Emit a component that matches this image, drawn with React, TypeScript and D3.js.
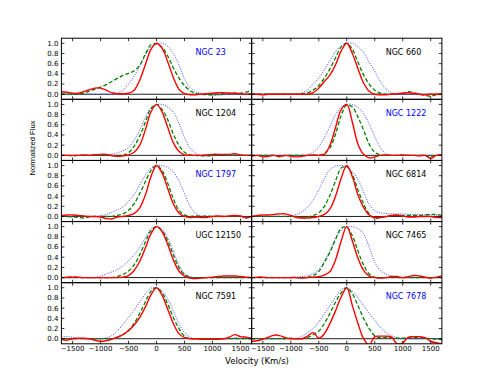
import React from "react";
import * as d3 from "d3";

const vel = [-1700, -1600, -1500, -1400, -1300, -1200, -1100, -1000, -900, -800, -700, -600, -500, -400, -300, -200, -100, 0, 100, 200, 300, 400, 500, 600, 700, 800, 900, 1000, 1100, 1200, 1300, 1400, 1500, 1600, 1700];

const xTicks = [-1500, -1000, -500, 0, 500, 1000, 1500];
const xTickLabels = ["\u22121500", "\u22121000", "\u2212500", "0", "500", "1000", "1500"];
const yTicks = [0, 0.2, 0.4, 0.6, 0.8, 1.0];
const yTickLabels = ["0.0", "0.2", "0.4", "0.6", "0.8", "1.0"];

// NGC 23
const ngc23Red = [0.05, 0.04, 0.02, 0.02, 0.05, 0.09, 0.12, 0.12, 0.08, 0.03, 0.01, 0.01, 0.02, 0.08, 0.28, 0.58, 0.88, 1.0, 0.9, 0.64, 0.33, 0.1, 0.01, -0.01, -0.01, 0.0, 0.01, 0.02, 0.03, 0.03, 0.02, 0.02, 0.01, 0.0, 0.0];
const ngc23Green = [0.0, 0.0, 0.0, 0.0, 0.02, 0.06, 0.1, 0.14, 0.19, 0.25, 0.31, 0.37, 0.41, 0.46, 0.57, 0.79, 0.97, 0.99, 0.92, 0.75, 0.52, 0.32, 0.17, 0.07, 0.02, 0.0, -0.01, -0.01, 0.0, 0.01, 0.02, 0.02, 0.02, 0.04, 0.07];
const ngc23Blue = [0.0, 0.0, 0.0, 0.0, 0.0, 0.0, 0.0, 0.0, 0.0, 0.0, 0.02, 0.08, 0.2, 0.36, 0.55, 0.77, 0.93, 0.99, 1.0, 0.94, 0.8, 0.58, 0.3, 0.13, 0.05, 0.02, 0.0, -0.02, -0.02, -0.01, 0.0, 0.0, 0.0, 0.0, 0.0];

// NGC 1204
const ngc1204Red = [0.0, 0.0, 0.0, 0.0, 0.01, 0.0, 0.01, 0.02, 0.02, 0.0, -0.02, -0.01, 0.01, 0.06, 0.2, 0.5, 0.85, 1.0, 0.85, 0.55, 0.25, 0.08, 0.01, 0.0, 0.0, 0.0, 0.01, 0.02, 0.02, 0.02, 0.02, 0.03, 0.01, 0.0, 0.0];
const ngc1204Green = [0.0, 0.0, -0.01, 0.0, 0.0, 0.0, 0.01, 0.0, 0.0, -0.01, 0.0, 0.0, 0.05, 0.18, 0.38, 0.65, 0.92, 1.0, 0.9, 0.7, 0.42, 0.2, 0.06, 0.01, 0.0, -0.01, -0.01, 0.0, 0.01, 0.01, 0.0, 0.0, 0.0, 0.0, 0.0];
const ngc1204Blue = [0.0, 0.0, 0.0, 0.0, 0.0, 0.0, 0.0, 0.0, 0.0, 0.02, 0.05, 0.09, 0.15, 0.3, 0.5, 0.75, 0.93, 0.99, 1.0, 0.95, 0.85, 0.63, 0.35, 0.14, 0.04, 0.0, -0.01, -0.01, 0.0, 0.0, 0.0, 0.0, 0.0, 0.0, 0.0];

// NGC 1797
const ngc1797Red = [0.02, 0.03, 0.03, 0.02, 0.01, 0.0, 0.0, -0.01, -0.04, -0.05, -0.01, 0.0, 0.02, 0.06, 0.17, 0.42, 0.78, 1.0, 0.85, 0.55, 0.25, 0.07, 0.0, -0.02, -0.01, -0.02, -0.02, 0.0, 0.01, 0.0, 0.01, 0.02, 0.01, -0.03, 0.0];
const ngc1797Green = [0.0, 0.0, -0.01, -0.02, -0.03, -0.01, 0.0, 0.0, 0.0, 0.0, 0.02, 0.05, 0.12, 0.25, 0.45, 0.68, 0.9, 1.0, 0.9, 0.65, 0.35, 0.12, 0.03, 0.0, 0.01, 0.0, 0.01, 0.0, 0.0, 0.0, 0.0, 0.0, 0.0, -0.02, 0.0];
const ngc1797Blue = [0.0, 0.0, 0.0, 0.0, 0.0, 0.0, 0.0, 0.01, 0.04, 0.08, 0.13, 0.19, 0.3, 0.43, 0.62, 0.81, 0.95, 1.0, 1.0, 0.96, 0.88, 0.7, 0.45, 0.2, 0.06, 0.01, 0.0, 0.0, 0.0, 0.0, 0.0, 0.0, 0.0, 0.0, 0.0];

// UGC 12150
const ugc12150Red = [0.0, 0.01, 0.01, 0.01, 0.0, 0.0, 0.0, 0.0, 0.0, 0.0, 0.0, 0.01, 0.04, 0.14, 0.32, 0.58, 0.86, 1.0, 0.9, 0.65, 0.35, 0.13, 0.03, -0.01, -0.02, -0.01, 0.0, 0.01, 0.02, 0.03, 0.03, 0.03, 0.02, 0.01, 0.0];
const ugc12150Green = [0.0, 0.0, 0.0, 0.0, 0.0, 0.0, 0.0, 0.0, 0.0, 0.0, 0.02, 0.06, 0.13, 0.25, 0.45, 0.7, 0.92, 1.0, 0.92, 0.72, 0.45, 0.2, 0.06, 0.01, 0.0, 0.0, 0.0, 0.0, 0.0, 0.0, 0.0, 0.0, 0.0, 0.0, 0.0];
const ugc12150Blue = [0.0, 0.0, 0.0, 0.0, 0.0, 0.0, 0.0, 0.03, 0.07, 0.11, 0.16, 0.23, 0.33, 0.45, 0.6, 0.78, 0.95, 1.0, 0.95, 0.78, 0.52, 0.25, 0.08, 0.02, 0.0, 0.0, 0.0, 0.0, 0.0, 0.0, 0.0, 0.0, 0.0, 0.0, 0.0];

// NGC 7591
const ngc7591Red = [-0.01, -0.03, 0.0, 0.01, 0.01, 0.0, -0.03, -0.05, -0.04, -0.01, 0.03, 0.08, 0.16, 0.27, 0.42, 0.62, 0.86, 1.0, 0.85, 0.58, 0.3, 0.1, 0.02, 0.0, 0.0, -0.01, -0.01, -0.01, -0.01, 0.0, 0.03, 0.08, 0.04, 0.03, 0.01];
const ngc7591Green = [0.0, 0.0, 0.0, 0.0, 0.0, 0.0, 0.0, 0.0, 0.0, 0.0, 0.03, 0.08, 0.16, 0.3, 0.5, 0.72, 0.93, 1.0, 0.9, 0.68, 0.42, 0.2, 0.05, 0.0, 0.0, 0.0, 0.0, 0.0, 0.0, 0.0, 0.0, 0.0, 0.0, 0.0, 0.0];
const ngc7591Blue = [0.03, 0.04, 0.03, 0.01, 0.0, 0.0, 0.0, 0.0, 0.02, 0.06, 0.15, 0.28, 0.42, 0.56, 0.72, 0.88, 0.99, 1.0, 0.93, 0.78, 0.55, 0.3, 0.12, 0.03, 0.0, 0.0, 0.0, 0.0, 0.0, 0.0, 0.0, 0.02, 0.04, 0.03, 0.0];

// NGC 660
const ngc660Red = [0.0, 0.0, -0.01, 0.0, 0.0, 0.0, 0.0, 0.0, 0.0, 0.0, 0.0, 0.03, 0.12, 0.25, 0.38, 0.58, 0.85, 1.0, 0.8, 0.5, 0.22, 0.06, 0.0, -0.01, -0.01, 0.0, 0.01, 0.02, 0.03, 0.02, 0.0, -0.01, 0.0, 0.0, 0.0];
const ngc660Green = [0.0, 0.0, 0.0, 0.0, 0.0, 0.0, 0.0, 0.0, 0.0, 0.01, 0.03, 0.08, 0.17, 0.32, 0.5, 0.72, 0.93, 1.0, 0.88, 0.63, 0.38, 0.2, 0.08, 0.02, 0.0, 0.0, 0.01, 0.02, 0.05, 0.03, 0.0, -0.02, -0.04, -0.01, 0.0];
const ngc660Blue = [0.0, 0.0, 0.0, 0.0, 0.0, 0.0, 0.0, 0.0, 0.0, 0.03, 0.08, 0.2, 0.32, 0.48, 0.66, 0.84, 0.95, 1.0, 1.0, 0.93, 0.82, 0.63, 0.45, 0.25, 0.1, 0.03, 0.0, 0.0, 0.0, 0.0, 0.0, 0.0, 0.0, 0.0, 0.0];

// NGC 1222
const ngc1222Red = [-0.02, 0.0, -0.03, -0.02, 0.0, -0.02, 0.0, -0.02, -0.03, -0.02, 0.0, 0.01, 0.0, 0.02, 0.2, 0.55, 0.9, 1.0, 0.65, 0.22, 0.02, -0.05, -0.03, 0.0, 0.01, 0.0, 0.0, 0.01, 0.0, 0.0, -0.01, 0.0, -0.06, 0.0, 0.01];
const ngc1222Green = [0.0, 0.0, 0.0, 0.0, 0.0, -0.03, 0.0, 0.0, 0.0, 0.0, 0.0, 0.0, 0.0, 0.04, 0.15, 0.42, 0.78, 0.99, 0.95, 0.75, 0.5, 0.22, 0.06, 0.01, 0.0, 0.0, 0.0, 0.0, 0.0, 0.0, 0.0, 0.0, -0.02, 0.0, 0.0];
const ngc1222Blue = [0.0, 0.0, 0.0, 0.0, 0.0, 0.0, 0.0, 0.0, 0.0, 0.0, 0.01, 0.06, 0.17, 0.35, 0.57, 0.8, 0.95, 1.0, 1.0, 0.94, 0.82, 0.62, 0.37, 0.15, 0.03, 0.0, 0.0, 0.0, 0.0, 0.0, 0.0, 0.0, 0.0, 0.0, 0.0];

// NGC 6814
const ngc6814Red = [0.0, 0.02, 0.03, 0.03, 0.04, 0.05, 0.05, 0.02, -0.02, -0.03, -0.03, -0.02, 0.0, 0.04, 0.15, 0.4, 0.75, 1.0, 0.78, 0.42, 0.18, 0.03, -0.02, -0.02, 0.0, 0.02, 0.03, 0.01, -0.01, -0.01, 0.0, 0.0, 0.0, -0.02, -0.02];
const ngc6814Green = [0.0, 0.0, 0.0, 0.0, 0.0, 0.0, 0.0, 0.0, 0.0, -0.02, -0.01, 0.02, 0.07, 0.2, 0.42, 0.7, 0.95, 0.98, 0.82, 0.52, 0.25, 0.05, -0.04, -0.02, 0.0, 0.02, 0.02, 0.02, 0.02, 0.02, 0.02, 0.03, 0.04, 0.04, 0.02];
const ngc6814Blue = [0.0, 0.0, 0.0, 0.0, 0.0, 0.0, 0.0, 0.01, 0.04, 0.09, 0.18, 0.33, 0.52, 0.75, 0.92, 0.99, 1.0, 0.97, 0.88, 0.72, 0.48, 0.24, 0.11, 0.07, 0.06, 0.05, 0.05, 0.05, 0.04, 0.04, 0.04, 0.03, 0.03, 0.02, 0.0];

// NGC 7465
const ngc7465Red = [0.0, 0.01, 0.01, 0.0, 0.0, 0.0, 0.0, 0.0, 0.0, -0.01, 0.0, 0.01, 0.02, 0.05, 0.12, 0.35, 0.72, 1.0, 0.72, 0.38, 0.14, 0.03, 0.0, -0.01, 0.0, 0.02, 0.02, 0.0, 0.02, 0.04, 0.03, 0.01, -0.01, 0.01, 0.04];
const ngc7465Green = [0.0, 0.0, 0.0, 0.0, 0.0, 0.0, 0.0, 0.0, 0.0, 0.0, 0.01, 0.04, 0.12, 0.3, 0.5, 0.75, 0.97, 0.99, 0.82, 0.52, 0.25, 0.07, 0.01, 0.0, 0.0, 0.0, 0.0, 0.0, 0.0, 0.0, 0.0, 0.0, 0.0, 0.0, 0.0];
const ngc7465Blue = [0.0, 0.0, 0.0, 0.0, 0.0, 0.0, 0.0, 0.0, 0.01, 0.02, 0.04, 0.08, 0.16, 0.32, 0.53, 0.77, 0.93, 0.99, 1.0, 0.96, 0.86, 0.6, 0.3, 0.14, 0.07, 0.03, 0.01, 0.0, 0.0, 0.0, 0.0, 0.0, 0.0, 0.0, 0.0];

// NGC 7678
const ngc7678Red = [-0.05, -0.04, -0.01, 0.03, 0.07, 0.06, 0.02, 0.0, 0.0, 0.0, 0.05, 0.12, 0.01, 0.1, 0.3, 0.55, 0.82, 1.0, 0.65, 0.3, 0.0, -0.12, 0.04, 0.05, 0.05, 0.03, -0.1, -0.08, 0.03, 0.04, 0.04, 0.02, -0.05, -0.08, -0.1];
const ngc7678Green = [0.0, 0.0, 0.0, 0.0, 0.0, 0.0, 0.0, 0.01, 0.0, 0.0, 0.02, 0.08, 0.15, 0.3, 0.5, 0.72, 0.9, 1.0, 0.88, 0.65, 0.4, 0.2, 0.06, 0.02, 0.02, 0.02, 0.01, 0.01, 0.02, 0.02, 0.02, 0.01, 0.0, -0.01, -0.02];
const ngc7678Blue = [0.0, 0.0, 0.0, 0.0, 0.0, 0.0, 0.0, 0.0, 0.01, 0.05, 0.12, 0.2, 0.33, 0.49, 0.65, 0.82, 0.96, 1.0, 0.93, 0.8, 0.65, 0.5, 0.36, 0.22, 0.12, 0.06, 0.02, 0.0, 0.0, 0.0, 0.0, 0.0, 0.0, 0.0, 0.0];

const panelNames = ["NGC 23", "NGC 660", "NGC 1204", "NGC 1222", "NGC 1797", "NGC 6814", "UGC 12150", "NGC 7465", "NGC 7591", "NGC 7678"];
const highlighted = ["NGC 23", "NGC 1222", "NGC 1797", "NGC 7678"];
const panelSeries = [
  [ngc23Red, ngc23Green, ngc23Blue],
  [ngc660Red, ngc660Green, ngc660Blue],
  [ngc1204Red, ngc1204Green, ngc1204Blue],
  [ngc1222Red, ngc1222Green, ngc1222Blue],
  [ngc1797Red, ngc1797Green, ngc1797Blue],
  [ngc6814Red, ngc6814Green, ngc6814Blue],
  [ugc12150Red, ugc12150Green, ugc12150Blue],
  [ngc7465Red, ngc7465Green, ngc7465Blue],
  [ngc7591Red, ngc7591Green, ngc7591Blue],
  [ngc7678Red, ngc7678Green, ngc7678Blue],
];

const W = 491;
const H = 382;
const L = 61.4;
const R = 441.9;
const T = 38.2;
const B = 343.8;
const colW = (R - L) / 2;
const rowH = (B - T) / 5;
const TICK = 3;
const FONT = "DejaVu Sans, sans-serif";

export default function App() {
  const panels = panelNames.map((name, i) => {
    const col = i % 2;
    const row = Math.floor(i / 2);
    const x0 = L + col * colW;
    const y0 = T + row * rowH;
    const x = d3.scaleLinear().domain([-1700, 1700]).range([x0, x0 + colW]);
    const y = d3.scaleLinear().domain([-0.1, 1.1]).range([y0 + rowH, y0]);
    const line = d3
      .line<number>()
      .x((_, k) => x(vel[k]))
      .y((d) => y(d))
      .curve(d3.curveCatmullRom.alpha(0.5));
    const [red, green, blue] = panelSeries[i];
    const clipId = `clip-${i}`;
    return (
      <g key={name}>
        <clipPath id={clipId}>
          <rect x={x0} y={y0} width={colW} height={rowH} />
        </clipPath>
        <g clipPath={`url(#${clipId})`}>
          <line x1={x0} x2={x0 + colW} y1={y(0)} y2={y(0)} stroke="#222" strokeWidth={1} />
          <path d={line(blue) || ""} fill="none" stroke="#3333ff" strokeWidth={0.9} strokeDasharray="1,1.4" />
          <path d={line(green) || ""} fill="none" stroke="#008000" strokeWidth={1.3} strokeDasharray="4,2.2" />
          <path d={line(red) || ""} fill="none" stroke="#ff0000" strokeWidth={1.4} />
        </g>
        {xTicks.map((t) => (
          <g key={`xt${t}`}>
            <line x1={x(t)} x2={x(t)} y1={y0 + rowH} y2={y0 + rowH - TICK} stroke="#000" strokeWidth={0.8} />
            <line x1={x(t)} x2={x(t)} y1={y0} y2={y0 + TICK} stroke="#000" strokeWidth={0.8} />
          </g>
        ))}
        {yTicks.map((t) => (
          <g key={`yt${t}`}>
            <line x1={x0} x2={x0 + TICK} y1={y(t)} y2={y(t)} stroke="#000" strokeWidth={0.8} />
            <line x1={x0 + colW} x2={x0 + colW - TICK} y1={y(t)} y2={y(t)} stroke="#000" strokeWidth={0.8} />
          </g>
        ))}
        <rect x={x0} y={y0} width={colW} height={rowH} fill="none" stroke="#000" strokeWidth={1} />
        {col === 0 &&
          yTicks.map((t, k) => (
            <text key={`yl${t}`} x={x0 - 3} y={y(t)} dy="0.35em" textAnchor="end" fontFamily={FONT} fontSize={7} fill="#000">
              {yTickLabels[k]}
            </text>
          ))}
        {row === 4 &&
          xTicks.map((t, k) => (
            <text key={`xl${t}`} x={x(t)} y={y0 + rowH + 7.5} textAnchor="middle" fontFamily={FONT} fontSize={7} fill="#000">
              {xTickLabels[k]}
            </text>
          ))}
        <text
          x={x0 + 134}
          y={y0 + 16.5}
          fontFamily={FONT}
          fontSize={8}
          fill={highlighted.includes(name) ? "#0000ff" : "#000"}
        >
          {name}
        </text>
      </g>
    );
  });

  return (
    <svg width={W} height={H} style={{ position: "absolute", left: 0, top: 0, background: "#fff" }}>
      <rect x={0} y={0} width={W} height={H} fill="#fff" />
      {panels}
      <text x={257} y={364} textAnchor="middle" fontFamily={FONT} fontSize={8.5} fill="#000">
        Velocity (Km/s)
      </text>
      <text
        transform="translate(35,148) rotate(-90)"
        textAnchor="middle"
        fontFamily="'Liberation Sans Narrow', 'Arial Narrow', sans-serif"
        fontSize={7.6}
        fill="#000"
      >
        Normalized Flux
      </text>
    </svg>
  );
}
